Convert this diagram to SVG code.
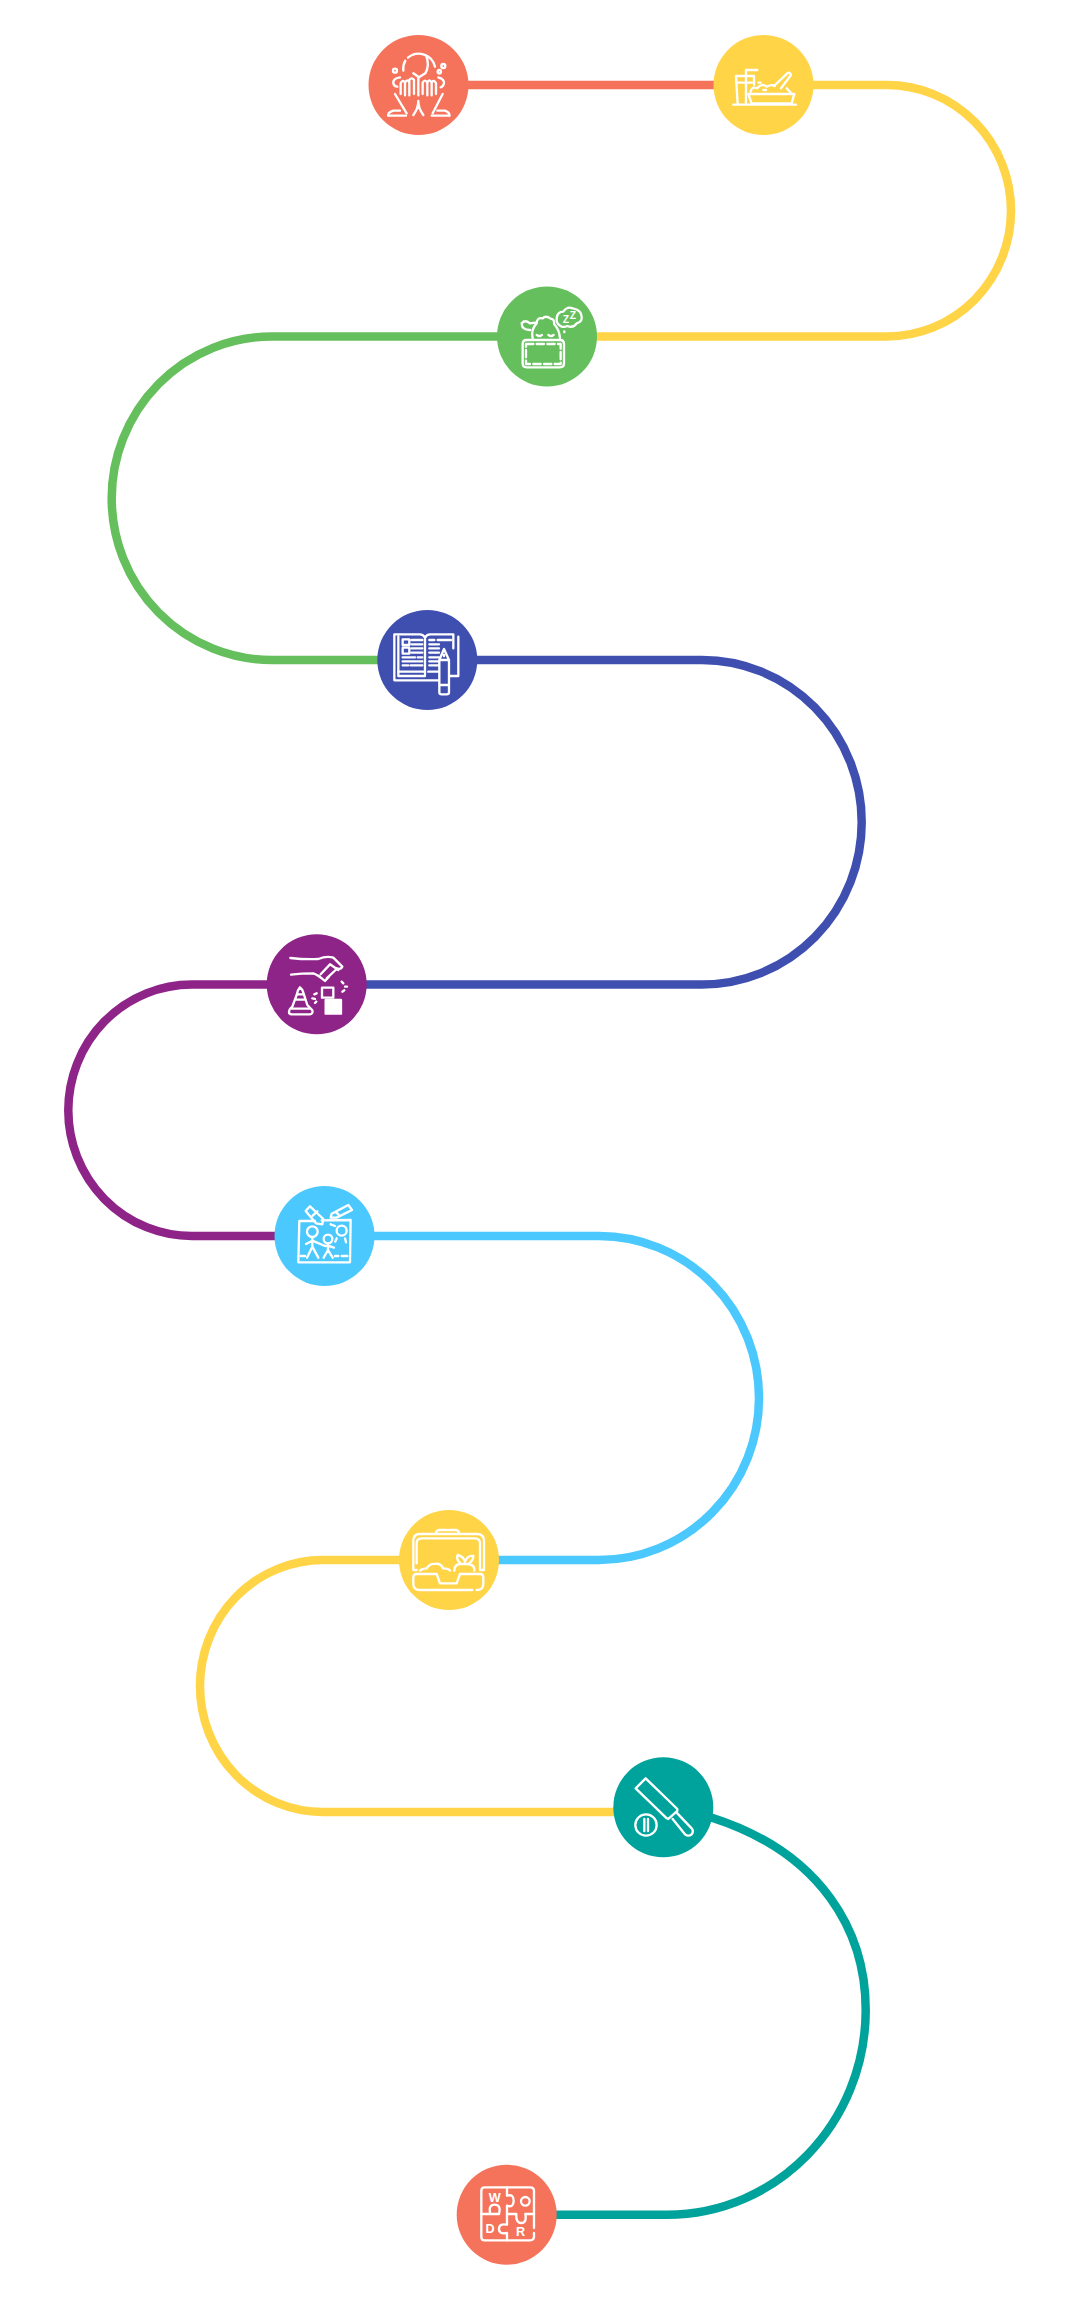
<svg xmlns="http://www.w3.org/2000/svg" width="1080" height="2300" viewBox="0 0 1080 2300">
<style>
.c{fill:none;stroke-width:8.5}
.i{fill:none;stroke:#fff;stroke-width:7;stroke-linecap:round;stroke-linejoin:round}
.d{stroke-dasharray:22 10}
.t{fill:#fff;stroke:none;font-family:"Liberation Sans",Arial,sans-serif;font-weight:700;text-anchor:middle}
</style>
<rect width="1080" height="2300" fill="#fff"/>
<g id="connectors">
<path class="c" stroke="#F5735B" d="M418.5 85H763.5"/>
<path class="c" stroke="#FFD447" d="M763.5 85H887A124 125.75 0 0 1 887 336.5H547"/>
<path class="c" stroke="#65BF5C" d="M547 336.5H272A160.3 161.75 0 0 0 272 660H427"/>
<path class="c" stroke="#3F4FB0" d="M427 660H702A159.7 162.25 0 0 1 702 984.5H317"/>
<path class="c" stroke="#8E2388" d="M317 984.5H192A123.7 125.75 0 0 0 192 1236H324"/>
<path class="c" stroke="#4BC8FD" d="M324 1236H599A160 162 0 0 1 599 1560H449"/>
<path class="c" stroke="#FFD447" d="M449 1560H323A123 126 0 0 0 323 1812H663"/>
<path class="c" stroke="#00A39B" d="M690 1811L712 1817.7C822 1853 865.7 1932 865.7 2010C865.7 2123 777 2214.7 667 2214.7H507"/>
</g>
<g id="node-1">
<circle cx="418.5" cy="85" r="50" fill="#F5735B"/>
<g class="i" transform="translate(350 20) scale(.3333)">
<path d="M160 152A50 50 0 0 1 166 122M174 113A50 50 0 0 1 255 140M228 106Q240 135 226 160L207 172L190 160"/>
<circle cx="280" cy="138" r="6"/><circle cx="135" cy="152" r="6"/><circle cx="268" cy="155" r="5"/>
<path d="M150 172Q128 175 130 190Q132 200 142 200M265 172Q284 178 282 190Q280 200 272 202"/>
<path d="M152 222V190Q158 176 165 188V226M165 188Q172 174 178 188V226M178 188V180Q185 170 192 180V222M205 172V226M218 222V188Q225 176 232 188V226M232 188Q238 174 245 188V226M245 188Q252 176 258 190V222"/>
<path d="M135 222L170 280M278 222L248 280M115 287Q112 278 130 272H150M298 287Q300 278 285 272H262"/>
<path d="M190 285Q205 265 205 243Q205 265 220 285M115 287H168M245 287H298"/>
</g>
</g>
<g id="node-2">
<circle cx="763.5" cy="85" r="50" fill="#FFD447"/>
<g class="i" transform="translate(350 20) scale(.3333)">
<path d="M1158 168H1212V195M1158 168L1163 250M1158 188H1205"/>
<path d="M1188 168V150H1222M1188 168V250"/>
<path d="M1195 222H1333L1325 250H1205ZM1202 215Q1205 198 1222 205Q1235 188 1250 200Q1265 192 1275 198M1310 205L1322 218M1225 188H1232M1240 210H1248"/>
<path d="M1272 198L1312 160Q1320 155 1323 165L1293 205"/>
<path d="M1150 254H1338"/>
</g>
</g>
<g id="node-3">
<circle cx="547" cy="336.5" r="50" fill="#65BF5C"/>
<g class="i" transform="translate(480 270) scale(.3333)">
<path d="M128 222Q128 210 140 210H240Q252 210 252 222V280Q252 292 240 292H140Q128 292 128 280Z"/>
<path class="d" d="M138 222H242V282H138Z"/>
<path d="M158 205Q152 178 170 160Q170 142 188 145Q198 135 212 146Q225 148 222 162Q238 178 240 205M150 180Q125 180 125 160Q135 148 150 160L166 158"/>
<path d="M170 195Q178 202 186 195M205 195Q213 202 221 195"/>
<path d="M245 170Q228 162 230 145Q232 125 250 125Q262 108 278 115Q300 118 304 135Q310 155 290 160Q280 175 262 168Q255 172 245 170ZM253 186V184"/>
<text class="t" style="font-size:31px" x="258" y="160">Z</text>
<text class="t" style="font-size:31px" x="279" y="146">Z</text>
</g>
</g>
<g id="node-4">
<circle cx="427.3" cy="660" r="50" fill="#3F4FB0"/>
<g class="i" transform="translate(365 595) scale(.3333)">
<path d="M100 125V243H180M88 118V256H222M88 118H165Q175 118 180 128V238M180 128Q185 118 195 118H265V160M280 125V243H255"/>
<path d="M113 133H133V150H113ZM113 158H133V176H113ZM140 135H172M140 148H172M140 160H172M140 173H172M113 187H150M158 187H172M113 199H172M113 211H130M137 211H172"/>
<path d="M193 135H208M218 135H258M193 148H222M193 160H222M193 173H222M193 187H222M193 199H222M193 211H222M100 230H175M190 230H222"/>
<path d="M223 195L237 162L252 195V292Q252 298 245 298H230Q223 298 223 292ZM223 195H252M223 270H252M237 180V183"/>
</g>
</g>
<g id="node-5">
<circle cx="316.7" cy="984.3" r="50" fill="#8E2388"/>
<g class="i" transform="translate(255 925) scale(.3333)">
<path d="M106 99Q150 104 190 102Q215 92 235 98L262 125Q258 135 245 130M108 149Q140 145 175 145Q190 150 210 168L222 155M197 148L225 118L250 135M215 160L245 132"/>
<path d="M201 188H235V218H201Z"/>
<path fill="#fff" d="M212 225H258V266H212Z"/>
<path d="M135 187Q128 195 126 207L112 245Q102 252 102 262Q102 268 110 268H165Q175 266 172 256L157 240L144 200Q142 192 135 187ZM120 224H150M110 251H163M128 208H144" />
<path d="M178 208L185 205M172 220L180 222M180 234L184 230M260 170L265 175M270 185H276M262 200L268 196"/>
</g>
</g>
<g id="node-6">
<circle cx="324.5" cy="1236" r="50" fill="#4BC8FD"/>
<g class="i" transform="translate(260 1175) scale(.3333)">
<path d="M118 138H165M185 136L272 135L270 262L115 262L118 138"/>
<path d="M137 108L150 94L190 132L187 148L168 145ZM158 122L172 109"/>
<path d="M215 116L265 90L276 105L230 128L212 128ZM227 110L238 122"/>
<circle cx="157" cy="170" r="16"/><circle cx="204" cy="192" r="13"/><circle cx="245" cy="167" r="15"/>
<path d="M157 187V215M138 207L157 197L195 213M141 248L157 215L175 248M204 205V225M195 213L204 212L222 218M191 248L204 225L218 248M212 148L225 153M230 190L226 200M255 190L258 202M122 243H135M225 243H235M245 243H262"/>
</g>
</g>
<g id="node-7">
<circle cx="449" cy="1560" r="50" fill="#FFD447"/>
<g class="i" transform="translate(385 1500) scale(.3333)">
<path d="M153 100Q153 90 165 90H210Q222 90 222 100"/>
<path d="M95 210H85V122Q85 102 105 102H275Q297 102 297 122V210H285M95 190V130Q95 115 110 115H270Q285 115 285 130V210"/>
<path d="M105 212Q112 205 125 205Q135 190 150 192Q165 188 175 205Q190 205 195 212M208 212Q208 192 228 192H250Q270 195 268 212M228 192Q212 178 218 165Q235 168 240 185Q248 165 265 168Q265 182 250 192"/>
<path d="M262 270H105Q85 270 85 252V232Q85 222 95 222H155L165 250H215L225 222H285Q295 222 295 232V252Q295 270 275 270"/>
</g>
</g>
<g id="node-8">
<circle cx="663.3" cy="1807.3" r="50" fill="#00A39B"/>
<g class="i" transform="translate(600 1745) scale(.3333)">
<path d="M107 130L137 100L232 192V198L205 222L198 218ZM218 222L255 268Q265 276 275 268Q282 258 275 250L232 205"/>
<circle cx="138" cy="240" r="32"/>
<path d="M133 222V258M144 222V258"/>
</g>
</g>
<g id="node-9">
<circle cx="506.7" cy="2214.7" r="50" fill="#F5735B"/>
<g class="i" transform="translate(443 2153) scale(.3333)">
<path d="M192 103H125Q115 103 115 113V252Q115 262 125 262H262Q272 262 273 252V240M273 225V113Q273 103 262 103H192"/>
<path d="M192 103V128Q212 122 212 143Q212 165 192 158V183M115 183H168Q175 155 155 155Q135 155 142 183M192 183H220Q218 210 235 210Q252 210 247 183H273M192 183V215Q168 210 168 228Q168 245 192 240V262"/>
<text class="t" style="font-size:38px" x="155" y="146">W</text>
<text class="t" style="font-size:38px" x="141" y="239">D</text>
<text class="t" style="font-size:38px" x="233" y="250">R</text>
<circle cx="247" cy="145" r="13"/>
</g>
</g>
</svg>
